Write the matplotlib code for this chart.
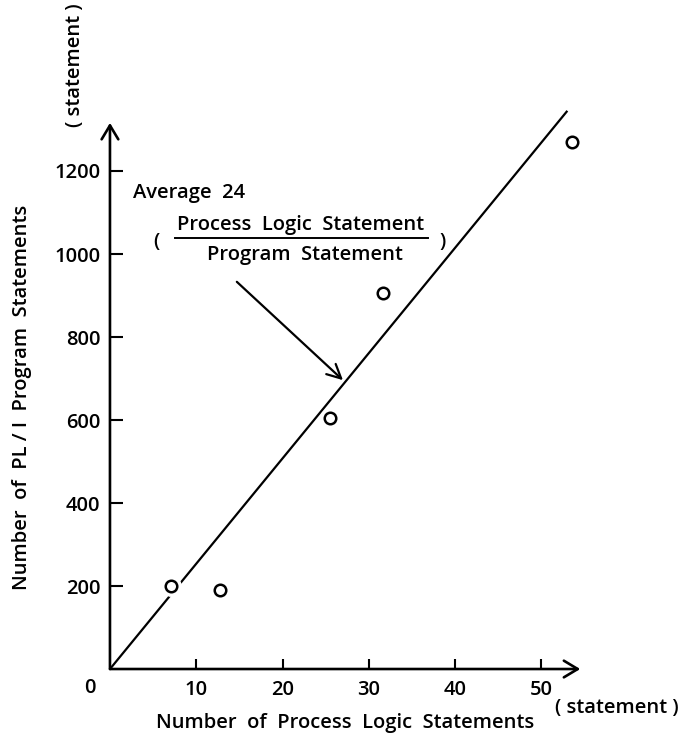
import numpy as np
import matplotlib
matplotlib.use('Agg')
import matplotlib.pyplot as plt

# data
pl_x = [7.1, 12.7, 25.5, 31.6, 53.5]        # process logic statements
pl_y = [200, 190, 605, 905, 1270]           # PL/I program statements
fit_x = [0, 53]
fit_y = [0, 1345]
x_ticks = [10, 20, 30, 40, 50]
y_ticks = [200, 400, 600, 800, 1000, 1200]

plt.rcParams['font.family'] = ['Open Sans', 'DejaVu Sans']
plt.rcParams['font.weight'] = 'semibold'
fs = 14.5

fig = plt.figure(figsize=(6.86, 7.47), dpi=100)
ax = fig.add_axes([0.1603, 0.1044, 0.7548, 0.7778])
ax.set_xlim(0, 60)
ax.set_ylim(0, 1400)
for s in ax.spines.values():
    s.set_visible(False)

# axes with arrow heads
arrow = dict(arrowstyle='->,head_length=0.5,head_width=0.3', lw=1.9,
             color='black', mutation_scale=20, shrinkA=0, shrinkB=0)
ax.annotate('', xy=(54.5, 0), xytext=(0, 0), arrowprops=arrow, annotation_clip=False)
ax.annotate('', xy=(0, 1316), xytext=(0, 0), arrowprops=arrow, annotation_clip=False)

ax.set_xticks(x_ticks)
ax.set_yticks(y_ticks)
ax.tick_params(axis='x', direction='in', length=7, width=1.5, pad=8, labelsize=fs)
ax.tick_params(axis='y', direction='in', length=9, width=1.5, pad=7, labelsize=fs)
ax.text(-2.3, -46, '0', fontsize=fs, ha='center', va='center', clip_on=False)

# regression line, with a gap round the marks near it
ax.plot(fit_x, fit_y, color='black', lw=1.6, zorder=2, solid_capstyle='butt')
ax.plot(pl_x, pl_y, 'o', ms=14, color='white', zorder=3)
ax.plot(pl_x, pl_y, 'o', ms=8.3, mfc='white', mec='black', mew=1.8, zorder=4)

# annotation
ax.text(2.7, 1147, 'Average  24', fontsize=fs, ha='left', va='center')
ax.text(22.1, 1070, 'Process  Logic  Statement', fontsize=fs, ha='center', va='center')
ax.plot([7.5, 36.8], [1039, 1039], color='black', lw=1.4)
ax.text(22.6, 998, 'Program  Statement', fontsize=fs, ha='center', va='center')
ax.text(5.4, 1030, '(', fontsize=fs, ha='center', va='center')
ax.text(38.5, 1030, ')', fontsize=fs, ha='center', va='center')
ax.annotate('', xy=(27.0, 696), xytext=(14.7, 933),
            arrowprops=dict(arrowstyle='->,head_length=0.5,head_width=0.25', lw=1.6,
                            color='black', mutation_scale=20, shrinkA=0, shrinkB=0))

# axis titles
fig.text(345 / 686, 1 - 723 / 747, 'Number  of  Process  Logic  Statements',
         fontsize=fs, ha='center', va='center')
fig.text(617 / 686, 1 - 708 / 747, '( statement )', fontsize=fs, ha='center', va='center')
fig.text(22 / 686, 1 - 397 / 747, 'Number  of  PL / I  Program  Statements',
         fontsize=fs, rotation=90, ha='center', va='center')
fig.text(75 / 686, 1 - 65 / 747, '( statement )', fontsize=fs, rotation=90,
         ha='center', va='center')

fig.savefig('out.png', dpi=100)
